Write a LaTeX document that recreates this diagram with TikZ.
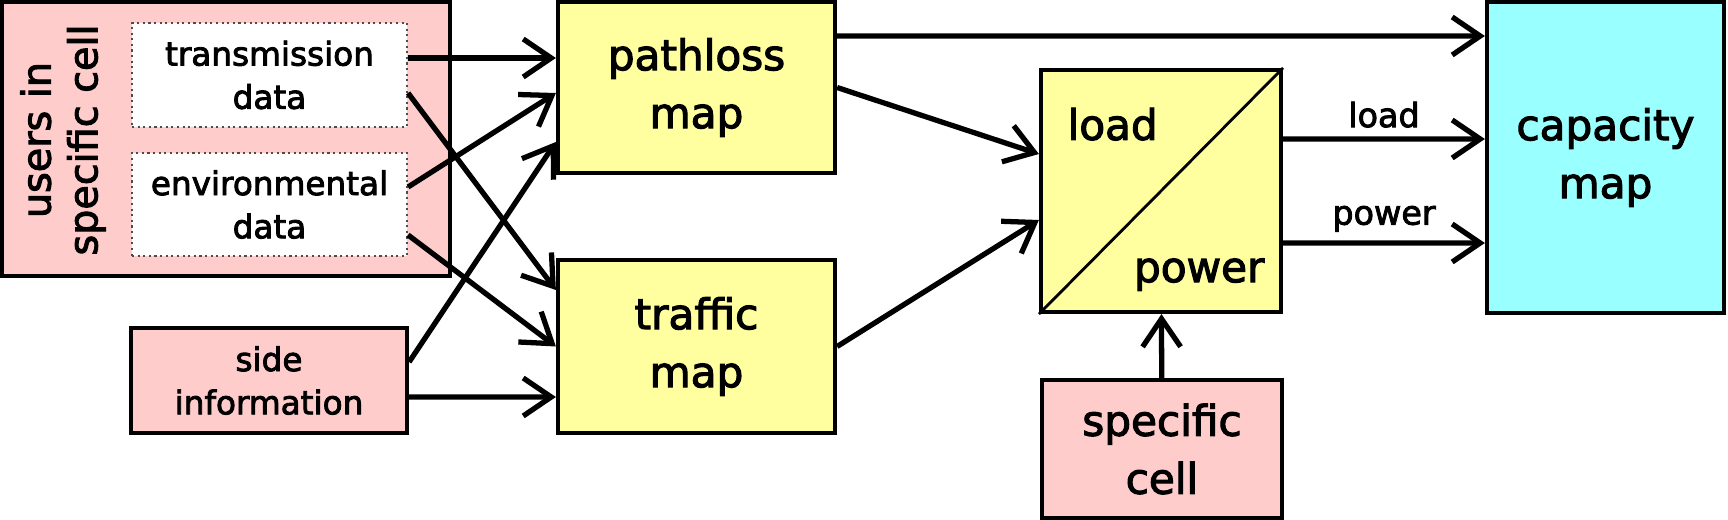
\documentclass[tikz,border=0pt]{standalone}
\usepackage{fontspec}
\setmainfont{DejaVu Sans}[FakeBold=2.6]
\usetikzlibrary{arrows.meta}

\definecolor{cellpink}{RGB}{255,204,204}
\definecolor{mapyellow}{RGB}{255,255,160}
\definecolor{capcyan}{RGB}{153,255,255}

\tikzset{
  box/.style={shape=rectangle,draw=black,line width=1.2pt,align=center,inner sep=0pt,
    font=\fontsize{12}{16.5}\selectfont},
  inbox/.style={box,fill=cellpink},
  mapbox/.style={box,fill=mapyellow},
  capbox/.style={box,fill=capcyan},
  databox/.style={shape=rectangle,draw=black!70,densely dotted,line width=0.6pt,fill=white,
    align=center,inner sep=0pt,font=\fontsize{9.3}{12.3}\selectfont},
  arr/.style={-{Straight Barb[length=2.8mm,width=3.8mm]},line width=1.5pt},
  lbl/.style={font=\fontsize{9.5}{11}\selectfont,inner sep=2.5pt}
}

\begin{document}
\begin{tikzpicture}
        \useasboundingbox (0,0) rectangle (17.28,-5.2);
        % inputs
        \node[inbox,minimum width=4.48cm,minimum height=2.74cm] (users) at (2.26,-1.39) {};
        \node[rotate=90,align=center,font=\fontsize{11.3}{13.3}\selectfont] (userstext) at (0.63,-1.40) {users in\\specific cell};
        \node[databox,minimum width=2.75cm,minimum height=1.04cm] (trans) at (2.695,-0.75) {transmission\\data};
        \node[databox,minimum width=2.75cm,minimum height=1.03cm] (env) at (2.695,-2.045) {environmental\\data};
        \node[inbox,font=\fontsize{9.3}{12.3}\selectfont,minimum width=2.76cm,minimum height=1.05cm] (side) at (2.69,-3.805) {side\\information};
        \node[inbox,minimum width=2.40cm,minimum height=1.38cm] (cell) at (11.62,-4.49) {specific\\cell};
        % maps
        \node[mapbox,minimum width=2.77cm,minimum height=1.71cm] (pathloss) at (6.965,-0.875) {pathloss\\map};
        \node[mapbox,minimum width=2.77cm,minimum height=1.73cm] (traffic) at (6.965,-3.465) {traffic\\map};
        \node[mapbox,minimum width=2.40cm,minimum height=2.42cm] (lp) at (11.61,-1.91) {};
        \draw[line width=0.8pt] (lp.south west) -- (lp.north east);
        \node[anchor=base west,font=\fontsize{12}{14}\selectfont,inner sep=0pt] (lpload) at ([xshift=2.8mm,yshift=-7.2mm]lp.north west) {load};
        \node[anchor=base east,font=\fontsize{12}{14}\selectfont,inner sep=0pt] (lppower) at ([xshift=-1.8mm,yshift=3.2mm]lp.south east) {power};
        \node[capbox,minimum width=2.37cm,minimum height=3.11cm] (cap) at (16.055,-1.575) {capacity\\map};
        % connectors
        \path [arr]([yshift=1.7mm]trans.east) edge ([yshift=2.95mm]pathloss.west);
        \path [arr]([yshift=-1.8mm]trans.east) edge ([yshift=5.65mm]traffic.west);
        \path [arr]([yshift=1.75mm]env.east) edge ([yshift=-0.55mm]pathloss.west);
        \path [arr]([yshift=-3.05mm]env.east) edge (traffic.west);
        \path [arr]([yshift=1.85mm]side.east) edge ([yshift=-5.45mm]pathloss.west);
        \path [arr]([yshift=-1.65mm]side.east) edge ([yshift=-5.05mm]traffic.west);
        \path [arr]([yshift=5.15mm]pathloss.east) edge ([yshift=12.15mm]cap.west);
        \path [arr](pathloss.east) edge ([yshift=3.7mm]lp.west);
        \path [arr](traffic.east) edge ([yshift=-2.9mm]lp.west);
        \path [arr]([yshift=5.2mm]lp.east) edge node[lbl,above]{load} ([yshift=1.85mm]cap.west);
        \path [arr]([yshift=-5.2mm]lp.east) edge node[lbl,above]{power} ([yshift=-8.55mm]cap.west);
        \path [arr](cell) edge (lp);
    \end{tikzpicture}
\end{document}
